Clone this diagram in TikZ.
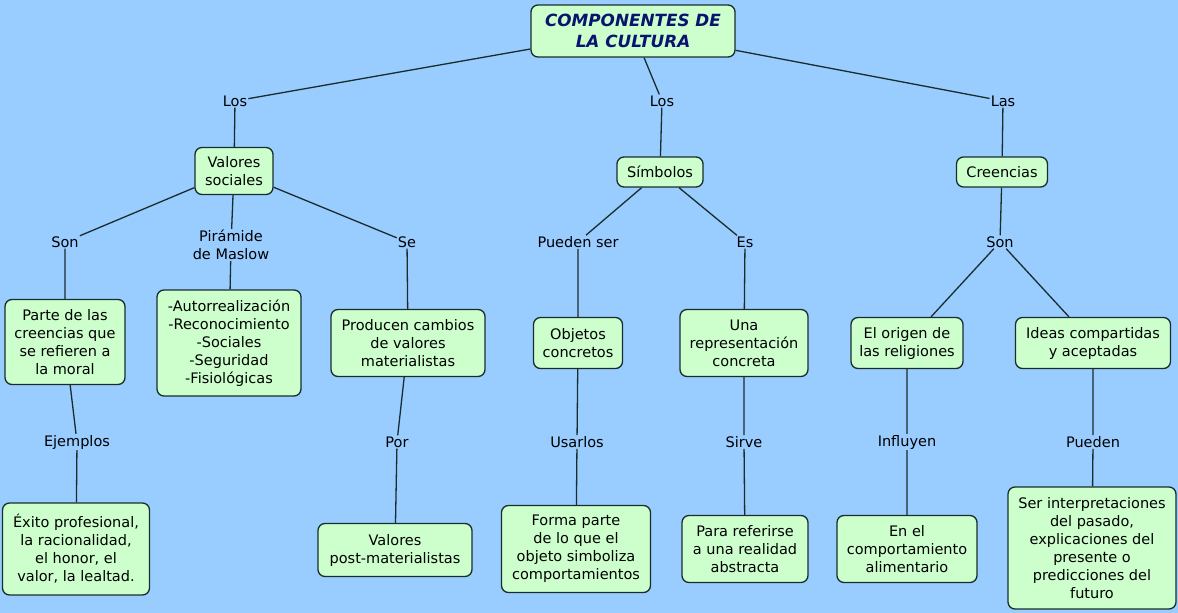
\documentclass[tikz,border=0pt]{standalone}
\usepackage{fontspec}
\setmainfont{DejaVu Sans}
\usepackage{xcolor}
\usepackage{tikz}
\usetikzlibrary{positioning}
\definecolor{fondo}{RGB}{153,204,255}
\definecolor{verdecaja}{RGB}{204,255,204}
\definecolor{borde}{RGB}{25,45,45}
\definecolor{titulo}{RGB}{10,20,110}

\begin{document}
\begin{tikzpicture}[x=1pt, y=-1pt,
    concepto/.style={draw=borde, fill=verdecaja, rounded corners=7pt, line width=1.3pt, align=center, font=\fontsize{14.5}{18}\selectfont, inner sep=2pt},
    enlace/.style={align=center, font=\fontsize{14.5}{18}\selectfont, inner sep=1pt},
    union/.style={draw=borde, line width=1.3pt}]
    \useasboundingbox (0,0) rectangle (1178,613);
    \fill[fondo] (0,0) rectangle (1178,613);

    \node[concepto, minimum width=204, minimum height=52, font=\fontsize{16.8}{21}\selectfont\bfseries\itshape, text=titulo] (cultura) at (633,31) {COMPONENTES DE\\LA CULTURA};

    \node[enlace] (losA) at (235,101) {Los};
    \node[enlace] (losB) at (662,101) {Los};
    \node[enlace] (las) at (1003,101) {Las};

    \node[concepto, minimum width=78, minimum height=47] (valores) at (234,171) {Valores\\sociales};
    \node[concepto, minimum width=86, minimum height=30] (simbolos) at (660,172) {Símbolos};
    \node[concepto, minimum width=91, minimum height=30] (creencias) at (1002,172) {Creencias};

    \node[enlace] (son1) at (65,242) {Son};
    \node[enlace] (maslow) at (231,245) {Pirámide\\de Maslow};
    \node[enlace] (se) at (407,242) {Se};
    \node[enlace] (puedenser) at (578,242) {Pueden ser};
    \node[enlace] (es) at (745,242) {Es};
    \node[enlace] (son2) at (1000,242) {Son};

    \node[concepto, minimum width=120, minimum height=85] (moral) at (65,342) {Parte de las\\creencias que\\se refieren a\\la moral};
    \node[concepto, minimum width=144, minimum height=106] (necesidades) at (229,343) {-Autorrealización\\-Reconocimiento\\-Sociales\\-Seguridad\\-Fisiológicas};
    \node[concepto, minimum width=154, minimum height=67] (cambios) at (408,343) {Producen cambios\\de valores\\materialistas};
    \node[concepto, minimum width=89, minimum height=51] (objetos) at (578,343) {Objetos\\concretos};
    \node[concepto, minimum width=128, minimum height=67] (representacion) at (744,343) {Una\\representación\\concreta};
    \node[concepto, minimum width=112, minimum height=51] (religiones) at (907,343) {El origen de\\las religiones};
    \node[concepto, minimum width=155, minimum height=51] (ideas) at (1093,343) {Ideas compartidas\\y aceptadas};

    \node[enlace] (ejemplos) at (77,442) {Ejemplos};
    \node[enlace] (por) at (397,442) {Por};
    \node[enlace] (usarlos) at (577,442) {Usarlos};
    \node[enlace] (sirve) at (744,442) {Sirve};
    \node[enlace] (influyen) at (907,442) {Influyen};
    \node[enlace] (pueden) at (1093,442) {Pueden};

    \node[concepto, minimum width=147, minimum height=92] (exito) at (76,549) {Éxito profesional,\\la racionalidad,\\el honor, el\\valor, la lealtad.};
    \node[concepto, minimum width=154, minimum height=53] (postmat) at (395,550) {Valores\\post-materialistas};
    \node[concepto, minimum width=149, minimum height=87] (forma) at (576,549) {Forma parte\\de lo que el\\objeto simboliza\\comportamientos};
    \node[concepto, minimum width=126, minimum height=67] (abstracta) at (745,549) {Para referirse\\a una realidad\\abstracta};
    \node[concepto, minimum width=140, minimum height=67] (alimentario) at (907,549) {En el\\comportamiento\\alimentario};
    \node[concepto, minimum width=168, minimum height=122] (futuro) at (1092,548) {Ser interpretaciones\\del pasado,\\explicaciones del\\presente o\\predicciones del\\futuro};

    \draw[union] (cultura) -- (losA) (losA) -- (valores)
        (cultura) -- (losB) (losB) -- (simbolos)
        (cultura) -- (las) (las) -- (creencias)
        (valores) -- (son1) (son1) -- (moral) (moral) -- (ejemplos) (ejemplos) -- (exito)
        (valores) -- (maslow) (maslow) -- (necesidades)
        (valores) -- (se) (se) -- (cambios) (cambios) -- (por) (por) -- (postmat)
        (simbolos) -- (puedenser) (puedenser) -- (objetos) (objetos) -- (usarlos) (usarlos) -- (forma)
        (simbolos) -- (es) (es) -- (representacion) (representacion) -- (sirve) (sirve) -- (abstracta)
        (creencias) -- (son2) (son2) -- (religiones) (religiones) -- (influyen) (influyen) -- (alimentario)
        (son2) -- (ideas) (ideas) -- (pueden) (pueden) -- (futuro);
\end{tikzpicture}
\end{document}
